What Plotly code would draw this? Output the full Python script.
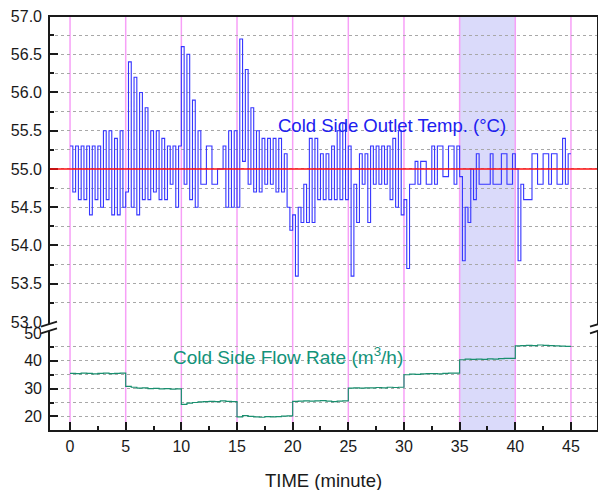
import plotly.graph_objects as go

# cold side outlet temperature, one reading every 0.25 min (0 .. 45 min)
temp_0_5 = [55.3, 54.7, 55.3, 54.6, 55.3, 54.6, 55.3, 54.4, 55.3, 54.6,
            55.3, 54.5, 55.5, 54.6, 55.5, 54.4, 55.4, 54.4, 55.5, 54.5]
temp_5_10 = [54.7, 56.4, 54.5, 56.2, 54.4, 56.0, 54.6, 55.8, 54.6, 55.5,
             54.7, 55.5, 54.6, 55.4, 54.6, 55.3, 54.8, 55.3, 54.5, 55.3]
temp_10_15 = [56.6, 54.8, 56.5, 54.6, 55.9, 54.5, 55.5, 54.8, 54.8, 55.3,
              55.3, 54.8, 54.8, 55.0, 55.0, 55.3, 54.5, 55.5, 54.5, 55.5]
temp_15_20 = [54.5, 56.7, 55.1, 56.3, 54.8, 55.8, 54.7, 55.5, 54.7, 55.4,
              54.8, 55.4, 54.8, 55.4, 54.7, 55.4, 54.7, 55.2, 54.5, 54.2]
temp_20_25 = [54.4, 53.6, 54.5, 54.3, 54.8, 54.3, 55.4, 54.3, 55.4, 54.6,
              55.2, 54.6, 55.2, 54.6, 55.3, 54.6, 55.5, 54.6, 55.6, 54.6]
temp_25_30 = [55.3, 53.6, 54.8, 54.3, 55.2, 54.8, 55.2, 54.3, 55.3, 54.8,
              55.3, 54.8, 55.3, 54.8, 55.3, 54.6, 55.4, 54.5, 55.5, 54.4]
temp_30_35 = [54.6, 53.7, 54.8, 54.8, 55.1, 54.8, 55.1, 55.1, 54.8, 54.8,
              55.3, 54.8, 55.3, 55.3, 54.9, 54.9, 55.3, 55.3, 54.8, 55.3]
temp_35_40 = [54.9, 53.8, 54.5, 54.3, 55.0, 54.6, 55.2, 54.8, 54.8, 54.8,
              54.8, 55.2, 54.8, 54.8, 54.8, 55.2, 55.2, 54.8, 54.8, 55.2]
temp_40_45 = [55.0, 53.8, 54.8, 54.6, 54.6, 54.6, 55.2, 55.2, 54.8, 54.8,
              55.2, 55.2, 54.8, 55.2, 55.2, 54.8, 54.8, 55.4, 54.8, 55.2, 55.2]

temp = (temp_0_5 + temp_5_10 + temp_10_15 + temp_15_20 + temp_20_25
        + temp_25_30 + temp_30_35 + temp_35_40 + temp_40_45)
temp_time = [i * 0.25 for i in range(len(temp))]

# cold side flow rate (m3/h), one reading every 0.5 min
flow = [35.5, 35.4, 35.6, 35.5, 35.3, 35.5, 35.6, 35.4, 35.5, 35.6,
        30.8, 30.5, 30.2, 30.3, 30.0, 30.1, 29.9, 30.0, 29.8, 29.9,
        24.3, 24.8, 25.0, 25.2, 25.3, 25.4, 25.3, 25.6, 25.4, 25.3,
        19.8, 20.3, 20.0, 19.8, 19.7, 19.9, 19.8, 19.9, 20.1, 20.2,
        25.4, 25.5, 25.6, 25.5, 25.6, 25.7, 25.5, 25.3, 25.5, 25.6,
        30.2, 30.3, 30.2, 30.3, 30.3, 30.4, 30.3, 30.5, 30.4, 30.5,
        35.0, 35.2, 35.1, 35.3, 35.4, 35.4, 35.3, 35.5, 35.6, 35.6,
        40.4, 40.6, 40.5, 40.6, 40.5, 40.7, 40.6, 40.8, 40.9, 40.9,
        45.4, 45.5, 45.6, 45.5, 45.7, 45.6, 45.5, 45.4, 45.3, 45.2, 45.2]
flow_time = [i * 0.5 for i in range(len(flow))]

set_points = [0, 5, 10, 15, 20, 25, 30, 35, 40, 45]
highlight = [35, 40]
target_temp = 55.0

FONT = "Liberation Sans, Arial, sans-serif"
GRID = "#a8a8a8"
W, H = 549, 415  # plot area in pixels
# the page body has an 8px margin, so the figure itself is 8px smaller
L0, T0 = 49, 16  # plot area top-left in the window

fig = go.Figure()
fig.add_trace(go.Scatter(x=temp_time, y=temp, mode="lines", line_shape="hv",
                         line=dict(color="#3535ff", width=1.1), yaxis="y"))
fig.add_trace(go.Scatter(x=flow_time, y=flow, mode="lines", line_shape="hv",
                         line=dict(color="#1a8f6f", width=1.2), yaxis="y2"))

shapes = []
shapes.append(dict(type="rect", xref="x", yref="paper", x0=highlight[0], x1=highlight[1],
                   y0=0, y1=1, fillcolor="rgba(205,205,248,0.75)", line=dict(width=0),
                   layer="below"))
for t in set_points:
    shapes.append(dict(type="line", xref="x", yref="paper", x0=t, x1=t, y0=0, y1=1,
                       line=dict(color="#f7a0f7", width=1.5), layer="below"))
shapes.append(dict(type="line", xref="x domain", yref="y", x0=0, x1=1,
                   y0=target_temp, y1=target_temp, line=dict(color="#ff1010", width=1.5)))
# frame
shapes.append(dict(type="rect", xref="paper", yref="paper", x0=0, x1=1, y0=0, y1=1,
                   line=dict(color="#1a1a1a", width=2)))

# axis break marks
dx = 8 / W
for xb in (0, 1):
    shapes.append(dict(type="path", xref="paper", yref="paper",
                       path=f"M {xb-dx},0.2354 L {xb+dx},0.2475 L {xb+dx},0.2634 L {xb-dx},0.2513 Z",
                       fillcolor="white", line=dict(width=0)))
    shapes.append(dict(type="line", xref="paper", yref="paper", x0=xb - dx, x1=xb + dx,
                       y0=0.2513, y1=0.2634, line=dict(color="#1a1a1a", width=1.8)))
    shapes.append(dict(type="line", xref="paper", yref="paper", x0=xb - dx, x1=xb + dx,
                       y0=0.2354, y1=0.2475, line=dict(color="#1a1a1a", width=1.8)))

annotations = [
    dict(text="Cold Side Outlet Temp. (°C)", x=(392 - L0) / W, y=(T0 + H - 113) / H,
         xref="paper", yref="paper", showarrow=False,
         font=dict(family=FONT, size=18.5, color="#2020f0")),
    dict(text="Cold Side Flow Rate (m<sup>3</sup>/h)", x=(288 - L0) / W, y=(T0 + H - 370) / H,
         xref="paper", yref="paper", showarrow=False,
         font=dict(family=FONT, size=19, color="#13937a")),
    dict(text="TIME (minute)", x=(323 - L0) / W, y=-(480 - T0 - H) / H, xref="paper", yref="paper",
         showarrow=False, yanchor="middle", font=dict(family=FONT, size=18.5, color="#1a1a1a")),
]

fig.update_layout(
    width=598, height=482,
    margin=dict(l=L0 - 8, r=8, t=T0 - 8, b=482 - (T0 - 8) - H, autoexpand=False),
    paper_bgcolor="white", plot_bgcolor="white",
    showlegend=False,
    font=dict(family=FONT, size=16, color="#1a1a1a"),
    shapes=shapes,
    annotations=annotations,
    xaxis=dict(range=[-1.89, 47.43], anchor="y2", tick0=0, dtick=5,
               ticks="inside", ticklen=9, tickwidth=2, tickcolor="#1a1a1a",
               minor=dict(dtick=2.5, ticks="inside", ticklen=5, tickwidth=1.5,
                          tickcolor="#1a1a1a", showgrid=False),
               showgrid=False, zeroline=False, showline=False, automargin=False,
               ticklabelstandoff=4, ticklabeloverflow="allow", tickfont=dict(size=16)),
    yaxis=dict(domain=[0.2627, 1], range=[53, 57], tick0=53, dtick=0.5, tickformat=".1f",
               ticks="inside", ticklen=9, tickwidth=2, tickcolor="#1a1a1a",
               showgrid=True, gridcolor=GRID, griddash="dot", gridwidth=1,
               minor=dict(dtick=0.25, ticks="inside", ticklen=5, tickwidth=1.5,
                          tickcolor="#1a1a1a", showgrid=True, gridcolor=GRID, griddash="dot"),
               zeroline=False, showline=False, anchor="x", automargin=False,
               ticklabelstandoff=6, ticklabeloverflow="allow", tickfont=dict(size=16)),
    yaxis2=dict(domain=[0, 0.236], range=[14.75, 50], tick0=20, dtick=10,
                ticks="inside", ticklen=9, tickwidth=2, tickcolor="#1a1a1a",
                showgrid=True, gridcolor=GRID, griddash="dot", gridwidth=1,
                minor=dict(dtick=5, ticks="inside", ticklen=5, tickwidth=1.5,
                           tickcolor="#1a1a1a", showgrid=True, gridcolor=GRID, griddash="dot"),
                zeroline=False, showline=False, anchor="x", automargin=False,
                ticklabelstandoff=6, ticklabeloverflow="allow", tickfont=dict(size=16)),
)

fig.write_html("out.html")
